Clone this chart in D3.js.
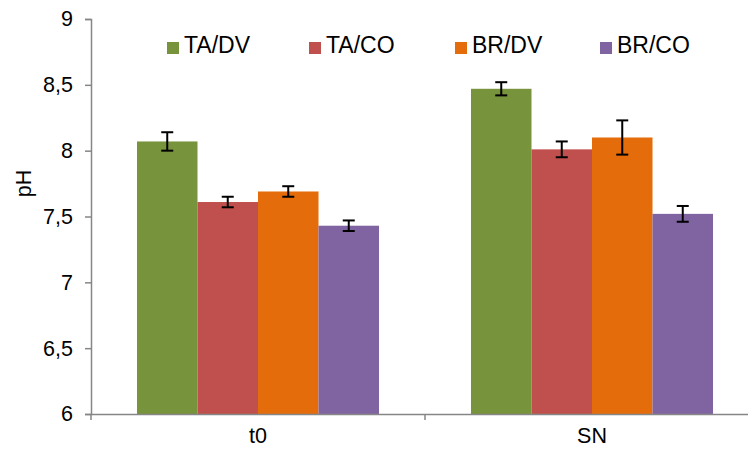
<!DOCTYPE html>
<html>
<head>
<meta charset="utf-8">
<script src="https://cdn.jsdelivr.net/npm/d3@7/dist/d3.min.js"></script>
<style>
  body { margin: 0; background: #fff; }
  svg { display: block; font-family: "Liberation Sans", Arial, sans-serif; }
</style>
</head>
<body>
<svg id="chart" width="748" height="454"></svg>
<script>
const categories = ["t0", "SN"];
const seriesNames = ["TA/DV", "TA/CO", "BR/DV", "BR/CO"];
const seriesColors = ["#77933C", "#C0504D", "#E46C0A", "#8064A2"];
const valuesTADV = [8.07, 8.47];
const valuesTACO = [7.61, 8.01];
const valuesBRDV = [7.69, 8.10];
const valuesBRCO = [7.43, 7.52];
const errTADV = [0.07, 0.05];
const errTACO = [0.04, 0.06];
const errBRDV = [0.04, 0.13];
const errBRCO = [0.04, 0.06];
const yTicks = [6, 6.5, 7, 7.5, 8, 8.5, 9];
const yTickLabels = ["6", "6,5", "7", "7,5", "8", "8,5", "9"];

const seriesValues = [valuesTADV, valuesTACO, valuesBRDV, valuesBRCO];
const seriesErrors = [errTADV, errTACO, errBRDV, errBRCO];

(function () {
const svg = d3.select("#chart");
const mLeft = 91, mRight = 759, mTop = 19, mBottom = 414;
const axisColor = "#868686";

const x0 = d3.scaleBand().domain(categories).range([mLeft, mRight]).padding(0);
const groupPad = x0.bandwidth() * 0.1377;
const x1 = d3.scaleBand().domain(seriesNames).range([groupPad, x0.bandwidth() - groupPad]).padding(0);
const y = d3.scaleLinear().domain([6, 9]).range([mBottom, mTop]);

const data = [];
categories.forEach((c, ci) => {
  seriesNames.forEach((s, si) => {
    data.push({ cat: c, ser: s, si, v: seriesValues[si][ci], e: seriesErrors[si][ci] });
  });
});

svg.append("g").selectAll("rect").data(data).join("rect")
  .attr("x", d => x0(d.cat) + x1(d.ser))
  .attr("y", d => y(d.v))
  .attr("width", x1.bandwidth())
  .attr("height", d => y(6) - y(d.v))
  .attr("fill", d => seriesColors[d.si]);

const eg = svg.append("g").attr("stroke", "#000").attr("stroke-width", 2);
data.forEach(d => {
  const cx = x0(d.cat) + x1(d.ser) + x1.bandwidth() / 2;
  eg.append("line").attr("x1", cx).attr("x2", cx).attr("y1", y(d.v + d.e)).attr("y2", y(d.v - d.e));
  eg.append("line").attr("x1", cx - 6).attr("x2", cx + 6).attr("y1", y(d.v + d.e)).attr("y2", y(d.v + d.e));
  eg.append("line").attr("x1", cx - 6).attr("x2", cx + 6).attr("y1", y(d.v - d.e)).attr("y2", y(d.v - d.e));
});

const yAxis = d3.axisLeft(y).tickValues(yTicks)
  .tickFormat((d, i) => yTickLabels[i]).tickSize(6).tickPadding(12);
const yg = svg.append("g").attr("transform", `translate(${mLeft},0)`).call(yAxis);
yg.select(".domain").attr("stroke", axisColor).attr("stroke-width", 1.5);
yg.selectAll(".tick line").attr("stroke", axisColor).attr("stroke-width", 1.5);
yg.selectAll(".tick text").attr("font-size", 21.5).attr("fill", "#000")
  .attr("font-family", "Liberation Sans, Arial, sans-serif");

const xAxis = d3.axisBottom(x0).tickSize(0).tickPadding(14);
const xg = svg.append("g").attr("transform", `translate(0,${mBottom})`).call(xAxis);
xg.select(".domain").attr("stroke", axisColor).attr("stroke-width", 1.5);
xg.selectAll(".tick text").attr("font-size", 21.5).attr("fill", "#000")
  .attr("font-family", "Liberation Sans, Arial, sans-serif");
const bounds = categories.map(c => x0(c)).concat([x0(categories[categories.length - 1]) + x0.bandwidth()]);
xg.selectAll(".bound").data(bounds).join("line")
  .attr("class", "bound")
  .attr("x1", d => d).attr("x2", d => d).attr("y1", 0).attr("y2", 6)
  .attr("stroke", axisColor).attr("stroke-width", 1.5);

svg.append("text")
  .attr("transform", `translate(31,${y(7.75)}) rotate(-90)`)
  .attr("text-anchor", "middle")
  .attr("font-size", 21.5)
  .text("pH");

const legendX = [167, 309, 455, 600];
const lg = svg.append("g");
seriesNames.forEach((s, i) => {
  lg.append("rect").attr("x", legendX[i]).attr("y", 42).attr("width", 12).attr("height", 12).attr("fill", seriesColors[i]);
  lg.append("text").attr("x", legendX[i] + 17).attr("y", 53).attr("font-size", 23).text(s);
});
})();
</script>
</body>
</html>
